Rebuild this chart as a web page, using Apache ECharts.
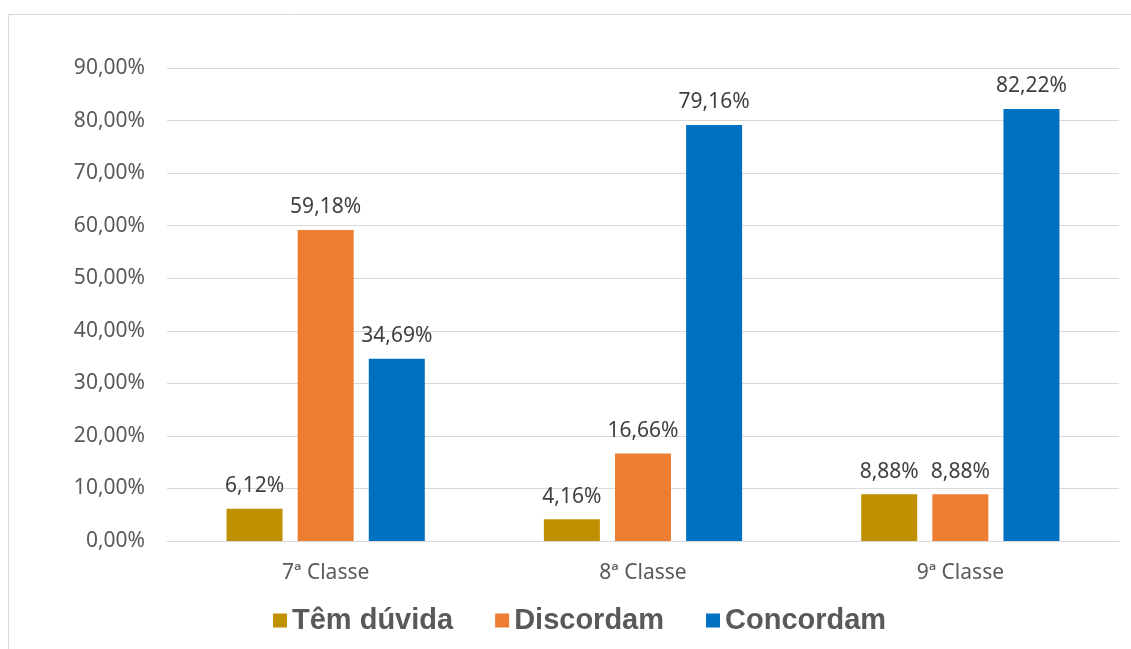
<!DOCTYPE html>
<html>
<head>
<meta charset="utf-8">
<script src="https://cdn.jsdelivr.net/npm/echarts@6/dist/echarts.min.js"></script>
<style>
html,body{margin:0;padding:0;background:#fff;}
#chart{width:1131px;height:649px;}
</style>
</head>
<body>
<div id="chart"></div>
<script>
const categories = ['7ª Classe', '8ª Classe', '9ª Classe'];
const seriesNames = ['Têm dúvida', 'Discordam', 'Concordam'];
const temDuvida = [6.12, 4.16, 8.88];
const discordam = [59.18, 16.66, 8.88];
const concordam = [34.69, 79.16, 82.22];
const colors = ['#BF9000', '#ED7D31', '#0070C0'];

const fmt = v => v.toFixed(2).replace('.', ',') + '%';
const chart = echarts.init(document.getElementById('chart'));
const dataSets = [temDuvida, discordam, concordam];

chart.setOption({
  animation: false,
  graphic: [{
    type: 'rect', shape: {x: 8.5, y: 14.5, width: 1200, height: 700},
    style: {fill: 'none', stroke: '#d9d9d9', lineWidth: 1}, silent: true
  }],
  grid: {left: 167, right: 12, top: 68, bottom: 108},
  legend: {
    left: 268, top: 601,
    itemWidth: 14, itemHeight: 14, itemGap: 42,
    icon: 'rect',
    textStyle: {fontFamily: 'Liberation Sans', fontWeight: 'bold', fontSize: 29, color: '#595959'},
    data: seriesNames
  },
  xAxis: {
    type: 'category', data: categories,
    axisTick: {show: false},
    axisLine: {lineStyle: {color: '#d9d9d9', width: 1}},
    axisLabel: {fontFamily: 'Noto Sans', fontSize: 21, color: '#595959', margin: 22}
  },
  yAxis: {
    type: 'value', min: 0, max: 90, interval: 10,
    axisLine: {show: false}, axisTick: {show: false},
    splitLine: {lineStyle: {color: '#d9d9d9', width: 1}},
    axisLabel: {fontFamily: 'Noto Sans', fontSize: 21, color: '#595959', margin: 22, formatter: fmt}
  },
  series: seriesNames.map((n, i) => ({
    name: n, type: 'bar', data: dataSets[i],
    barWidth: 56, barGap: '27%',
    itemStyle: {color: colors[i]},
    label: {show: true, position: 'top', distance: 12, fontFamily: 'Noto Sans', fontSize: 21, color: '#404040', formatter: p => fmt(p.value)}
  }))
});
</script>
</body>
</html>
